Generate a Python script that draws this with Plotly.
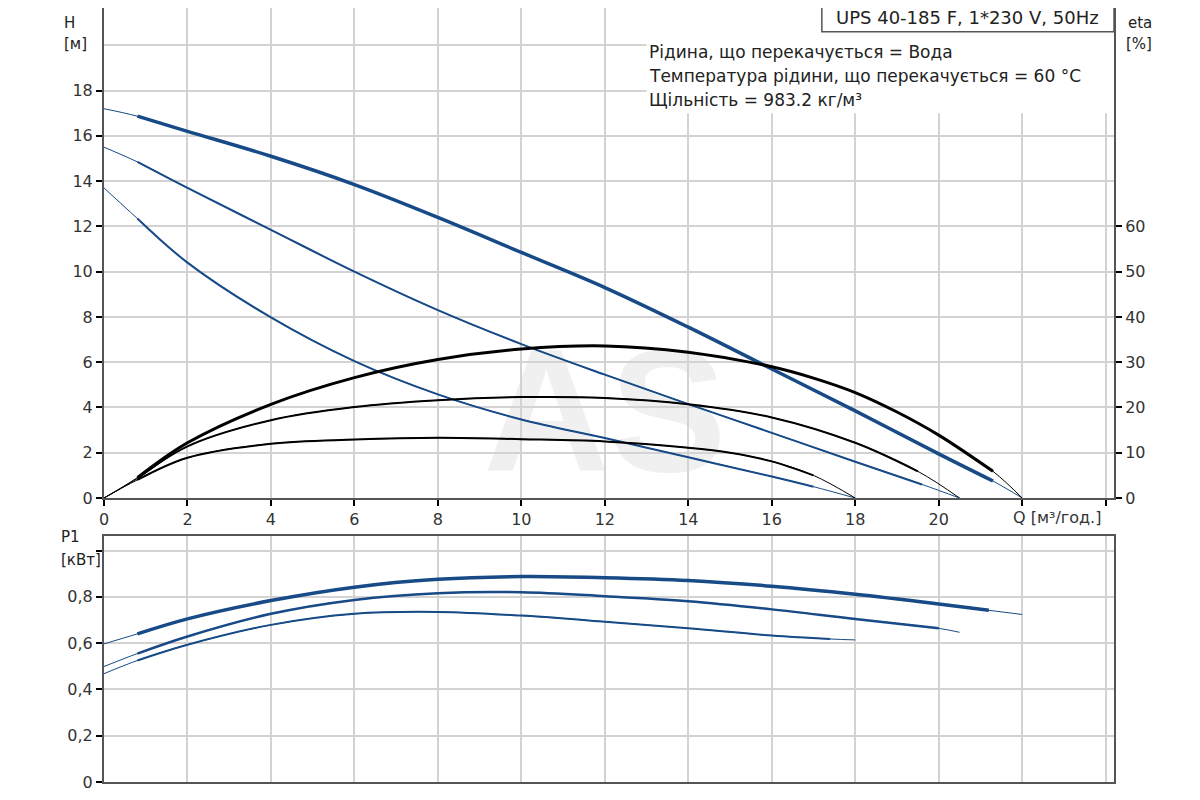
import plotly.graph_objects as go

# --- H curves (Q in m3/h, H in m), three speeds ---
q_h1 = [0, 0.8, 2, 4, 6, 8, 10, 12, 14, 16, 18, 20, 21.3, 22]
h_1 = [17.2, 16.87, 16.2, 15.1, 13.85, 12.4, 10.85, 9.3, 7.55, 5.7, 3.85, 1.95, 0.75, 0]
q_h2 = [0, 0.8, 2, 4, 6, 8, 10, 12, 14, 16, 18, 19.6, 20.5]
h_2 = [15.5, 14.85, 13.7, 11.85, 10.0, 8.3, 6.8, 5.45, 4.15, 2.88, 1.6, 0.6, 0]
q_h3 = [0, 0.8, 2, 4, 6, 8, 10, 12, 14, 16, 17, 18]
h_3 = [13.7, 12.35, 10.4, 7.98, 6.05, 4.58, 3.47, 2.65, 1.8, 0.95, 0.5, 0]

# --- eta curves (%) ---
q_e1 = [0, 0.8, 2, 4, 6, 8, 10, 12, 14, 16, 17, 18, 19, 20, 21.3, 22]
eta_1 = [0, 4.5, 12.2, 20.7, 26.6, 30.6, 32.9, 33.6, 32.2, 29.0, 26.5, 23.3, 19.0, 13.9, 5.9, 0]
q_e2 = [0, 0.8, 2, 4, 6, 8, 10, 12, 14, 16, 18, 19.5, 20.5]
eta_2 = [0, 4.3, 11.4, 17.2, 20.1, 21.6, 22.3, 22.1, 20.7, 17.8, 12.2, 5.9, 0]
q_e3 = [0, 0.8, 2, 4, 6, 8, 10, 12, 14, 15, 16, 17, 18]
eta_3 = [0, 4.0, 8.9, 12.0, 12.9, 13.3, 13.0, 12.5, 11.1, 10.0, 8.1, 5.0, 0]

# --- P1 curves (kW) ---
q_p1 = [0, 0.8, 2, 4, 6, 8, 10, 12, 14, 16, 18, 20, 21.2, 22]
p_1 = [0.597, 0.64, 0.705, 0.784, 0.842, 0.876, 0.888, 0.883, 0.871, 0.846, 0.811, 0.769, 0.742, 0.724]
q_p2 = [0, 0.8, 2, 4, 6, 8, 10, 12, 14, 16, 18, 20, 20.5]
p_2 = [0.499, 0.555, 0.629, 0.727, 0.787, 0.816, 0.820, 0.803, 0.781, 0.746, 0.704, 0.664, 0.647]
q_p3 = [0, 0.8, 2, 4, 6, 8, 10, 12, 14, 16, 17.4, 18]
p_3 = [0.468, 0.525, 0.593, 0.679, 0.727, 0.735, 0.719, 0.693, 0.664, 0.633, 0.618, 0.614]

# --- ticks / labels ---
q_ticks = [0, 2, 4, 6, 8, 10, 12, 14, 16, 18, 20, 22, 24]
q_labels = ["0", "2", "4", "6", "8", "10", "12", "14", "16", "18", "20", "", ""]
h_ticks = [0, 2, 4, 6, 8, 10, 12, 14, 16, 18]
eta_ticks = [0, 10, 20, 30, 40, 50, 60]
p_ticks = [0, 0.2, 0.4, 0.6, 0.8, 1.0]
p_labels = ["0", "0,2", "0,4", "0,6", "0,8", ""]

pump_name = "UPS 40-185 F, 1*230 V, 50Hz"
info_lines = ["Рідина, що перекачується = Вода",
              "Температура рідини, що перекачується = 60 °C",
              "Щільність = 983.2 кг/м³"]

BLUE = "#174a86"
FONT = "DejaVu Sans"
GRID = "#d3d3d3"
AXIS = "#555555"

fig = go.Figure()


def add_curve(q, v, color, width, xa, ya):
    # thin full curve, thick working range on top
    fig.add_trace(go.Scatter(x=q, y=v, mode="lines", xaxis=xa, yaxis=ya,
                             line=dict(color=color, width=1, shape="spline", smoothing=1.0),
                             hoverinfo="skip", showlegend=False))
    fig.add_trace(go.Scatter(x=q[1:-1], y=v[1:-1], mode="lines", xaxis=xa, yaxis=ya,
                             line=dict(color=color, width=width, shape="spline", smoothing=1.0),
                             showlegend=False))


add_curve(q_e1, eta_1, "black", 3, "x", "y3")
add_curve(q_e2, eta_2, "black", 2, "x", "y3")
add_curve(q_e3, eta_3, "black", 2, "x", "y3")
add_curve(q_h1, h_1, BLUE, 3.5, "x", "y")
add_curve(q_h2, h_2, BLUE, 2, "x", "y")
add_curve(q_h3, h_3, BLUE, 2, "x", "y")
add_curve(q_p1, p_1, BLUE, 3.5, "x2", "y2")
add_curve(q_p2, p_2, BLUE, 2.5, "x2", "y2")
add_curve(q_p3, p_3, BLUE, 2, "x2", "y2")

tickfont = dict(family=FONT, size=16, color="#333")
x_common = dict(range=[0, 24.2], tickvals=q_ticks, showgrid=True, gridcolor=GRID, gridwidth=1.5,
                zeroline=False, showline=True, linecolor=AXIS, linewidth=2, tickfont=tickfont)

fig.update_layout(
    width=1200, height=800,
    margin=dict(l=96, r=94, t=0, b=26),
    paper_bgcolor="white", plot_bgcolor="rgba(0,0,0,0)",
    xaxis=dict(x_common, anchor="y", domain=[0, 1], ticktext=q_labels, ticks="outside",
               ticklen=6, tickcolor="black", tickwidth=1.5),
    xaxis2=dict(x_common, anchor="y2", domain=[0, 1], showticklabels=False, ticks="", mirror=True),
    yaxis=dict(domain=[0.3669, 1], range=[0, 21.65], tickvals=h_ticks, ticks="outside", ticklen=6,
               tickcolor="black", tickwidth=1.5, showgrid=True, gridcolor=GRID, gridwidth=1.5,
               minor=dict(tickvals=[20], showgrid=True, gridcolor=GRID, gridwidth=1.5, ticks=""),
               zeroline=False, showline=True, linecolor=AXIS, linewidth=2, tickfont=tickfont),
    yaxis3=dict(overlaying="y", anchor="x", side="right", range=[0, 108.25], tickvals=eta_ticks,
                ticks="outside", ticklen=6, tickcolor="black", tickwidth=1.5, showgrid=False,
                zeroline=False, showline=True, linecolor=AXIS, linewidth=2, tickfont=tickfont),
    yaxis2=dict(domain=[0, 0.3178], anchor="x2", range=[0, 1.063], tickvals=p_ticks, ticktext=p_labels,
                ticks="outside", ticklen=6, tickcolor="black", tickwidth=1.5, showgrid=True,
                gridcolor=GRID, gridwidth=1.5, zeroline=False, showline=True, linecolor=AXIS,
                linewidth=2, mirror=True, tickfont=tickfont),
)

# watermark behind the grid
fig.add_shape(type="rect", xref="x", yref="y", x0=9, x1=15, y0=2.0, y1=7.2, layer="below",
              line=dict(width=0), fillcolor="rgba(0,0,0,0)",
              label=dict(text="<b>AS</b>", font=dict(family="Liberation Sans", size=175, color="#f0f0f0"),
                         textposition="middle center"))

# white panel behind the info text
fig.add_shape(type="rect", xref="x", yref="y", x0=13.0, x1=24.2, y0=17.0, y1=22, layer="between",
              line=dict(width=0), fillcolor="white")
# pump name box
fig.add_shape(type="rect", xref="x", yref="y", x0=17.2, x1=24.2, y0=20.6, y1=22.2, layer="above",
              line=dict(color=AXIS, width=1.5), fillcolor="white")
fig.add_annotation(x=20.7, y=21.25, xref="x", yref="y", text=pump_name, showarrow=False,
                   font=dict(family=FONT, size=18, color="#222"))
for i, line in enumerate(info_lines):
    fig.add_annotation(x=13.0, y=19.71 - i * 1.06, xref="x", yref="y", text=line, showarrow=False,
                       xanchor="left", font=dict(family=FONT, size=17, color="#222"))

# axis titles
lab = dict(family=FONT, size=15, color="#222")
fig.add_annotation(x=22, y=0, xref="x", yref="y", text="Q [м³/год.]", showarrow=False,
                   xanchor="left", yanchor="top", xshift=-11, yshift=-8, font=tickfont)
fig.add_annotation(x=-0.042, y=0.995, xref="paper", yref="paper", text="H", showarrow=False, font=lab)
fig.add_annotation(x=-0.042, y=0.968, xref="paper", yref="paper", text="[м]", showarrow=False, font=lab)
fig.add_annotation(x=1.04, y=0.995, xref="paper", yref="paper", text="eta", showarrow=False, font=lab)
fig.add_annotation(x=1.04, y=0.968, xref="paper", yref="paper", text="[%]", showarrow=False, font=lab)
fig.add_annotation(x=-0.045, y=0.302, xref="paper", yref="paper", text="P1", showarrow=False, font=lab)
fig.add_annotation(x=-0.045, y=0.273, xref="paper", yref="paper", text="[кВт]", showarrow=False, font=lab)

fig.write_html("out.html")
